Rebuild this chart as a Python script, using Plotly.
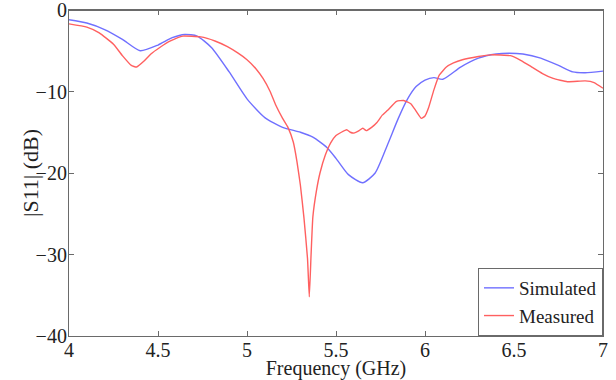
import plotly.graph_objects as go

sim_f = [4.0, 4.1, 4.2, 4.3, 4.4, 4.5, 4.58, 4.65, 4.72, 4.8, 4.9, 5.0, 5.1, 5.2, 5.3, 5.37, 5.45, 5.5, 5.57, 5.65, 5.72, 5.79, 5.85, 5.9, 5.95, 6.0, 6.05, 6.1, 6.2, 6.3, 6.4, 6.47, 6.55, 6.65, 6.75, 6.83, 6.9, 7.0]
sim_db = [-1.2, -1.6, -2.4, -3.6, -5.0, -4.3, -3.4, -3.0, -3.2, -4.6, -7.6, -10.9, -13.2, -14.4, -15.0, -15.6, -16.9, -18.2, -20.2, -21.2, -20.0, -16.5, -13.3, -11.0, -9.4, -8.6, -8.3, -8.5, -7.0, -5.9, -5.4, -5.3, -5.4, -5.9, -6.8, -7.6, -7.7, -7.5]

meas_f = [4.0, 4.1, 4.17, 4.25, 4.3, 4.35, 4.38, 4.42, 4.46, 4.51, 4.57, 4.64, 4.74, 4.82, 4.89, 4.95, 5.0, 5.05, 5.09, 5.13, 5.16, 5.2, 5.23, 5.26, 5.28, 5.3, 5.32, 5.34, 5.35, 5.36, 5.37, 5.39, 5.41, 5.44, 5.47, 5.5, 5.53, 5.56, 5.58, 5.6, 5.63, 5.65, 5.67, 5.7, 5.73, 5.76, 5.79, 5.84, 5.88, 5.92, 5.95, 5.98, 6.0, 6.02, 6.05, 6.08, 6.12, 6.16, 6.21, 6.3, 6.37, 6.48, 6.54, 6.6, 6.66, 6.72, 6.8, 6.9, 6.95, 7.0]
meas_db = [-1.7, -2.1, -2.8, -4.2, -5.6, -6.8, -7.0, -6.3, -5.4, -4.6, -3.8, -3.2, -3.3, -3.8, -4.5, -5.3, -6.1, -7.2, -8.4, -10.0, -11.6, -13.3, -14.4, -16.2, -18.5, -21.5, -25.5, -30.5, -35.2, -30.0, -25.4, -22.2, -20.0, -17.8, -16.3, -15.4, -15.0, -14.7, -15.0, -15.1, -14.8, -14.5, -14.8, -14.4, -13.8, -12.9, -12.3, -11.2, -11.1, -11.5, -12.4, -13.3, -13.0, -12.0, -9.8, -8.0, -7.0, -6.5, -6.1, -5.7, -5.5, -5.6, -6.2, -7.0, -7.8, -8.4, -8.8, -8.7, -8.9, -9.6]

x_ticks = [4, 4.5, 5, 5.5, 6, 6.5, 7]
x_tick_text = ["4", "4.5", "5", "5.5", "6", "6.5", "7"]
y_ticks = [0, -10, -20, -30, -40]
y_tick_text = ["0", "\u221210", "\u221220", "\u221230", "\u221240"]
x_title = "Frequency (GHz)"
y_title = "|S11| (dB)"

SERIF = "Liberation Serif, Times New Roman, serif"
AXIS_GREY = "#6a6a6a"

fig = go.Figure()
fig.add_trace(go.Scatter(x=sim_f, y=sim_db, mode="lines", name="Simulated",
                         line=dict(color="#7070ff", width=1.4, shape="spline", smoothing=0.6)))
fig.add_trace(go.Scatter(x=meas_f, y=meas_db, mode="lines", name="Measured",
                         line=dict(color="#ff6060", width=1.4, shape="spline", smoothing=0.4)))

axis_common = dict(showgrid=False, zeroline=False, showline=True, linecolor=AXIS_GREY, linewidth=1.2,
                   mirror="allticks", ticks="inside", ticklen=5, tickcolor=AXIS_GREY, automargin=False,
                   ticklabeloverflow="allow",
                   tickfont=dict(family=SERIF, size=20, color="#222222"))

fig.update_layout(
    width=616, height=380,
    margin=dict(l=69, r=13, t=10, b=44),
    paper_bgcolor="white", plot_bgcolor="white",
    font=dict(family=SERIF, color="#222222"),
    xaxis=dict(range=[4, 7], tickvals=x_ticks, ticktext=x_tick_text, ticklabelstandoff=-4,
               title=dict(text=x_title, font=dict(family=SERIF, size=20), standoff=1), **axis_common),
    yaxis=dict(range=[-40, 0], tickvals=y_ticks, ticktext=y_tick_text, ticklabelstandoff=-3,
               **axis_common),
    legend=dict(x=1, y=0, xanchor="right", yanchor="bottom", bgcolor="white",
                bordercolor=AXIS_GREY, borderwidth=1, font=dict(family=SERIF, size=19),
                tracegroupgap=0, itemwidth=30),
    showlegend=True,
    annotations=[dict(text=y_title, xref="paper", yref="paper", x=0, y=0.5, xshift=-39,
                      xanchor="center", yanchor="middle", textangle=-90, showarrow=False,
                      font=dict(family=SERIF, size=22, color="#222222"))],
    shapes=[dict(type="line", xref="paper", yref="paper", x0=0, x1=1, y0=0.999, y1=0.999,
                 line=dict(color=AXIS_GREY, width=1.5), layer="above")],
)

# remove the browser's default 8px body margin so the figure sits at the window origin
fig.write_html("out.html", config={"displayModeBar": False},
               post_script="document.body.style.margin='0';document.body.style.overflow='hidden';")
